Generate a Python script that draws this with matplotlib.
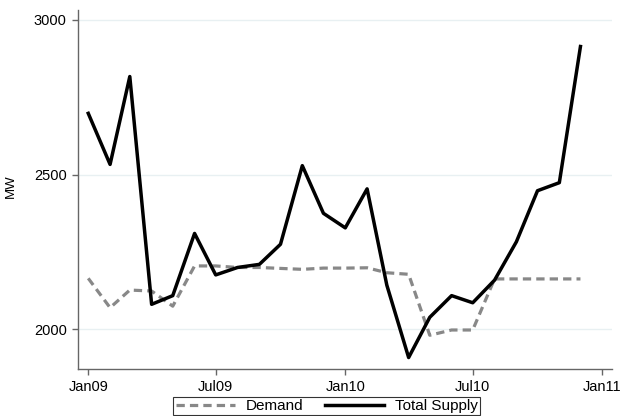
import numpy as np
import pandas as pd
import matplotlib
matplotlib.use('Agg')
import matplotlib.pyplot as plt
import matplotlib.dates as mdates

plt.rcParams['font.family'] = ['Liberation Sans', 'DejaVu Sans']

months = pd.date_range('2009-01-01', periods=24, freq='MS')
demand = [2165, 2070, 2127, 2124, 2075, 2205, 2205, 2200, 2200, 2197, 2194, 2198,
          2198, 2199, 2183, 2178, 1981, 1998, 1998, 2163, 2163, 2163, 2163, 2163]
supply = [2698, 2533, 2817, 2081, 2109, 2310, 2176, 2200, 2210, 2275, 2529, 2375,
          2328, 2454, 2143, 1909, 2039, 2109, 2086, 2159, 2283, 2448, 2474, 2914]
tick_dates = pd.to_datetime(['2009-01-01', '2009-07-01', '2010-01-01', '2010-07-01', '2011-01-01'])
y_ticks = [2000, 2500, 3000]

fig = plt.figure(figsize=(6.24, 4.16), dpi=100)
ax = fig.add_axes([0.1245, 0.113, 0.981 - 0.1245, 0.976 - 0.113])

l1, = ax.plot(months, demand, color='#888888', lw=2.3, ls=(0, (2.6, 1.6)), label='Demand')
l2, = ax.plot(months, supply, color='black', lw=2.5, label='Total Supply')

ax.set_xlim(pd.Timestamp('2008-12-17'), pd.Timestamp('2011-01-15'))
ax.set_ylim(1872, 3032)
ax.set_xticks(tick_dates)
ax.xaxis.set_major_formatter(mdates.DateFormatter('%b%y'))
ax.set_yticks(y_ticks)
ax.grid(axis='y', color='#e8f0f2', lw=1)
ax.set_axisbelow(True)

for s in ['top', 'right']:
    ax.spines[s].set_visible(False)
for s in ['left', 'bottom']:
    ax.spines[s].set_color('#666666')
    ax.spines[s].set_linewidth(1)
ax.tick_params(axis='both', colors='#666666', labelcolor='black', labelsize=10.5,
               length=4.3, width=1, pad=3.6)

ax.set_ylabel('MW', fontsize=9.5)
ax.yaxis.set_label_coords(-0.114, 0.51)

leg = fig.legend(handles=[l1, l2], loc='upper left', bbox_to_anchor=(173.3 / 624, 1 - 396.7 / 416),
                 ncol=2, fontsize=11, frameon=True, fancybox=False, handlelength=3.9,
                 handletextpad=0.7, columnspacing=1.4, borderpad=0.15, borderaxespad=0)
leg.get_frame().set_edgecolor('black')
leg.get_frame().set_linewidth(0.8)

fig.savefig('out.png', dpi=100)
